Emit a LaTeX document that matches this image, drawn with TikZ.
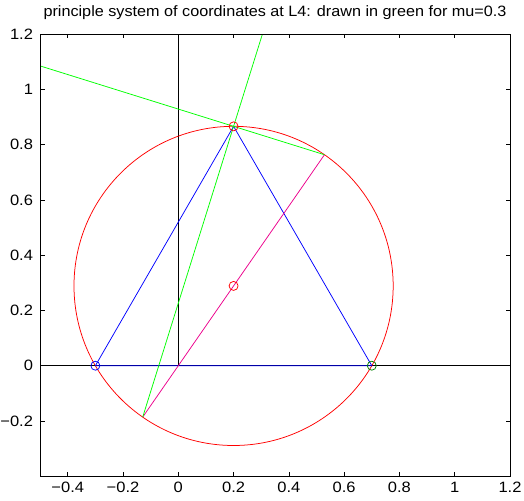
\documentclass[tikz,border=0pt]{standalone}
\usepackage{fontspec}
\setmainfont{Liberation Sans}
\newfontfamily\ticksfont[FakeStretch=1.1]{Liberation Sans}
\newfontfamily\titlefont[FakeStretch=1.08]{Liberation Sans}
\usetikzlibrary{calc}

\begin{document}
\begin{tikzpicture}[x=276.4pt, y=276.4pt, font=\fontsize{15}{18}\selectfont\ticksfont,
    plotline/.style={line width=0.75pt},
    marker/.style={line width=0.75pt}]
    \useasboundingbox (-0.6451,-0.4859) rectangle (1.2507,1.3231);
    % points for mu=0.3
    \coordinate (m1) at (-0.3,0);
    \coordinate (m2) at (0.7,0);
    \coordinate (L4) at (0.2,0.8660);
    \coordinate (ctr) at (0.2,0.2887);
    \coordinate (dlo) at (-0.1288,-0.1859);
    \coordinate (dhi) at (0.5288,0.7633);
    \begin{scope}
        \clip (-0.5,-0.399) rectangle (1.2,1.2);
        \draw[plotline] (-0.5,0) -- (1.2,0);
        \draw[plotline] (0,0) -- (0,1.2);
        \draw[plotline, red] (ctr) circle (0.5774);
        \draw[plotline, blue] (m1) -- (L4) -- (m2) -- cycle;
        \draw[plotline, magenta] (dlo) -- (dhi);
        \draw[plotline, green] (dlo) -- ($(dlo)!3!(L4)$);
        \draw[plotline, green] (dhi) -- ($(dhi)!5!(L4)$);
        \draw[marker, blue] (m1) circle (4.5pt);
        \draw[marker, green!50!black] (m2) circle (4.5pt);
        \draw[marker, red] (L4) circle (4.5pt);
        \draw[marker, red] (ctr) circle (4.5pt);
    \end{scope}
    % axes box and ticks
    \draw[line width=0.75pt] (-0.5,-0.399) rectangle (1.2,1.2);
    \foreach \x/\t [count=\k] in {-0.4/−0.4, -0.2/−0.2, 0/0, 0.2/0.2, 0.4/0.4, 0.6/0.6, 0.8/0.8, 1/1, 1.2/1.2} {
        \draw[line width=0.6pt] (\x,-0.399) -- ++(0,0.016);
        \draw[line width=0.6pt] (\x,1.2) -- ++(0,-0.016);
        \node[below, inner sep=0pt] (xt\k) at (\x,-0.42) {\t};
    }
    \foreach \y/\t [count=\k] in {-0.2/−0.2, 0/0, 0.2/0.2, 0.4/0.4, 0.6/0.6, 0.8/0.8, 1/1, 1.2/1.2} {
        \draw[line width=0.6pt] (-0.5,\y) -- ++(0.016,0);
        \draw[line width=0.6pt] (1.2,\y) -- ++(-0.016,0);
        \node[left, inner sep=0pt] (yt\k) at (-0.525,\y) {\t};
    }
    \node[font=\fontsize{15}{18}\selectfont\titlefont] (title) at (0.35,1.276) {principle system of coordinates at L4: drawn in green for mu=0.3};
\end{tikzpicture}
\end{document}
